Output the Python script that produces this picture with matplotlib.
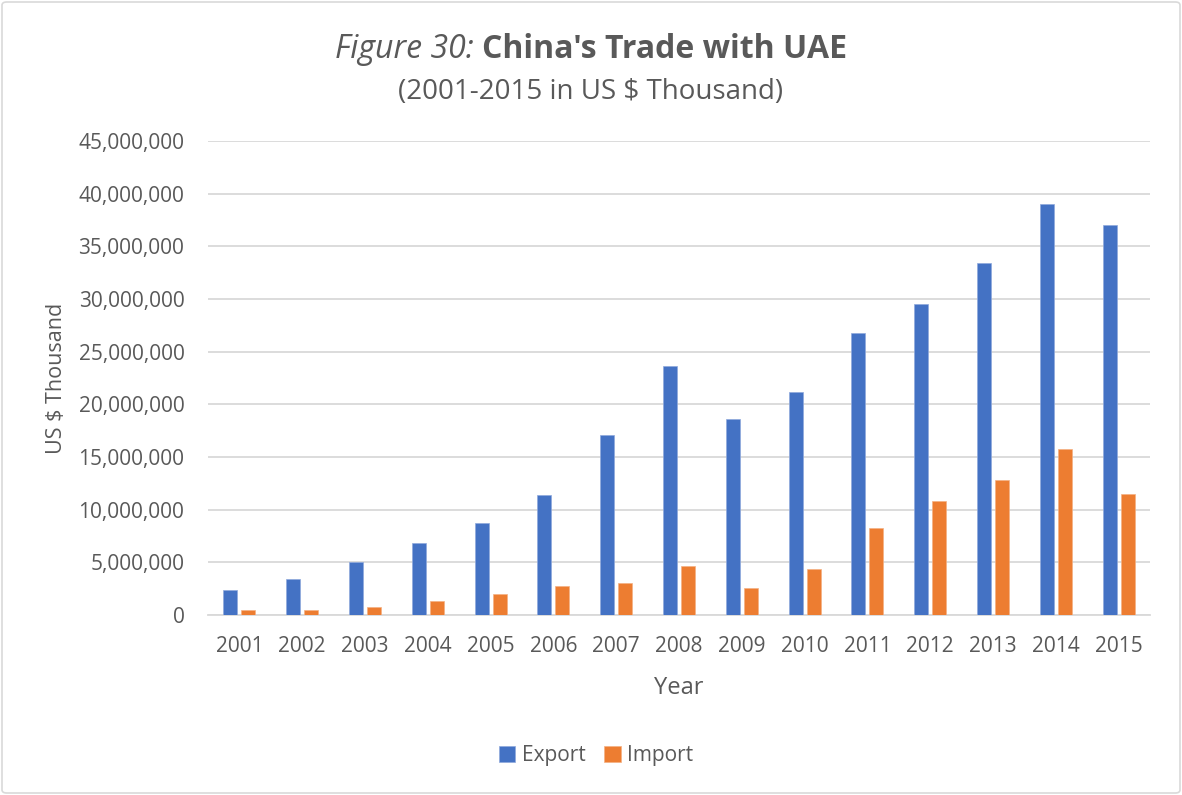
import matplotlib
matplotlib.use("Agg")
import matplotlib.pyplot as plt
import numpy as np
from matplotlib.patches import FancyBboxPatch
from matplotlib.ticker import FuncFormatter, MultipleLocator

years = ["2001", "2002", "2003", "2004", "2005", "2006", "2007", "2008",
         "2009", "2010", "2011", "2012", "2013", "2014", "2015"]
export_vals = [2350000, 3450000, 5030000, 6800000, 8700000, 11400000, 17100000, 23620000,
               18580000, 21200000, 26800000, 29550000, 33400000, 39000000, 37070000]
import_vals = [470000, 470000, 760000, 1300000, 2030000, 2800000, 3000000, 4610000,
               2570000, 4400000, 8270000, 10830000, 12800000, 15740000, 11530000]

FONT = ["Open Sans", "DejaVu Sans"]
plt.rcParams['font.family'] = FONT
TXT = "#595959"
BLUE = "#4472C4"
ORANGE = "#ED7D31"

W, H = 1182, 795
fig = plt.figure(figsize=(W / 100, H / 100), dpi=100)
fig.patch.set_facecolor("white")

border = FancyBboxPatch((2 / W, 2 / H), 1 - 4 / W, 1 - 4 / H,
                        boxstyle="round,pad=0,rounding_size=0.004",
                        transform=fig.transFigure, facecolor="none",
                        edgecolor="#d9d9d9", linewidth=1.2)
fig.patches.append(border)

ax = fig.add_axes([208 / W, 1 - 615 / H, (1150 - 208) / W, (615 - 141) / H])
x = np.arange(len(years))
bw = 0.223
off = 0.143
ax.bar(x - off, export_vals, bw, color=BLUE, label="Export", zorder=3,
       edgecolor="#8fa9dc", linewidth=0.5)
ax.bar(x + off, import_vals, bw, color=ORANGE, label="Import", zorder=3,
       edgecolor="#f4b183", linewidth=0.5)

ax.set_xlim(-0.5, len(years) - 0.5)
ax.set_ylim(0, 45000000)
ax.yaxis.set_major_locator(MultipleLocator(5000000))
ax.yaxis.set_major_formatter(FuncFormatter(lambda v, p: f"{int(v):,}"))
ax.set_xticks(x)
ax.set_xticklabels(years)
ax.grid(axis="y", color="#d9d9d9", linewidth=1.3, zorder=0)
for s in ["top", "right", "left"]:
    ax.spines[s].set_visible(False)
ax.spines["bottom"].set_color("#d9d9d9")
ax.spines["bottom"].set_linewidth(1.3)
ax.tick_params(axis="both", length=0, labelsize=15, labelcolor=TXT)
ax.tick_params(axis="y", pad=17)
ax.tick_params(axis="x", pad=15)

ax.set_xlabel("Year", fontsize=17, color=TXT, labelpad=14)
ax.set_ylabel("US $ Thousand", fontsize=15.5, color=TXT, labelpad=8)

# Title with mixed styles, centered as a whole
t1 = fig.text(0, 0, "Figure 30: ", fontsize=23, style="italic", color=TXT)
t2 = fig.text(0, 0, "China's Trade with UAE", fontsize=23, weight="bold", color=TXT)
fig.canvas.draw()
r = fig.canvas.get_renderer()
w1 = t1.get_window_extent(r).width
w2 = t2.get_window_extent(r).width
cx = 591
start = cx - (w1 + w2) / 2
ty = 1 - 49 / H
t1.set_position((start / W, ty)); t1.set_va("center")
t2.set_position(((start + w1) / W, ty)); t2.set_va("center")
fig.text(cx / W, 1 - 92 / H, "(2001-2015 in US $ Thousand)", fontsize=20,
         color=TXT, ha="center", va="center")

leg = fig.legend(loc="center", bbox_to_anchor=(596 / W, 1 - 756 / H), ncol=2,
                 frameon=False, fontsize=15, handlelength=0.8, handleheight=0.8,
                 handletextpad=0.3, columnspacing=0.9)
for t in leg.get_texts():
    t.set_color(TXT)

fig.savefig("out.png", dpi=100)
